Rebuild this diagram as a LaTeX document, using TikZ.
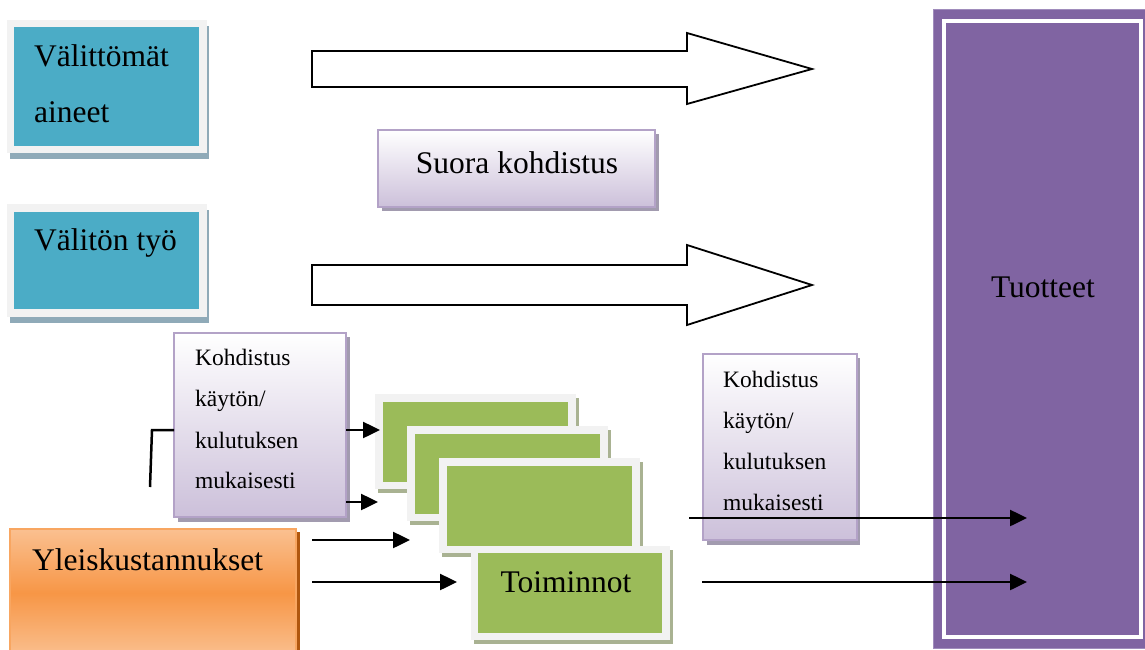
\documentclass[tikz,border=0pt]{standalone}
\usepackage{fontspec}
\setmainfont{Liberation Serif}
\usetikzlibrary{arrows.meta,backgrounds}
\definecolor{frameC}{HTML}{F2F2F2}
\definecolor{tealC}{HTML}{4BACC6}
\definecolor{tealSh}{HTML}{8FAAB8}
\definecolor{lavB}{HTML}{B3A2C7}
\definecolor{lavBot}{HTML}{CCC0DA}
\definecolor{lavSh}{HTML}{A29BAF}
\definecolor{greenC}{HTML}{9BBB59}
\definecolor{greenSh}{HTML}{A9B292}
\definecolor{orTop}{HTML}{FAC090}
\definecolor{orMid}{HTML}{F79646}
\definecolor{orB}{HTML}{F8A661}
\definecolor{orSh}{HTML}{B0570F}
\definecolor{purpleC}{HTML}{8064A2}
\definecolor{purpleL}{HTML}{A08CBC}
\newcommand\BoxFontL{\fontsize{31.5}{36}\selectfont}
\newcommand\BoxFontS{\fontsize{23.5}{28}\selectfont}
\begin{document}
\begin{tikzpicture}[x=1pt,y=-1pt,
  rbox/.style={inner sep=0pt,outer sep=0pt,anchor=north west},
  lavbox/.style={rbox,draw=lavB,line width=2pt,top color=white,bottom color=lavBot},
  greenbox/.style={rbox,fill=frameC,minimum width=201pt,minimum height=95pt},
  lbl/.style={inner sep=0pt,anchor=base west,font=\BoxFontL},
  slbl/.style={inner sep=0pt,anchor=base west,font=\BoxFontS},
  blockarrow/.style={draw=black,fill=white,line width=1.8pt,line join=miter},
  arr/.style={line width=2.5pt,-{Triangle[length=17pt,width=16pt]}},
  plain/.style={line width=2.5pt}
]
\useasboundingbox (0,0) rectangle (1145,650);

% Tuotteet
\node[rbox,fill=purpleC,draw=purpleL,line width=1pt,minimum width=213pt,minimum height=638pt] (tu) at (933,10) {};
\draw[white,line width=4pt] ([xshift=11pt,yshift=-11pt]tu.north west) rectangle ([xshift=-5pt,yshift=11pt]tu.south east);
\node[inner sep=0pt,anchor=base,font=\BoxFontL] (tut) at (1043,297) {Tuotteet};

% Välittömät aineet
\node[rbox,fill=frameC,minimum width=200pt,minimum height=133pt] (va) at (7,20) {};
\fill[tealC] ([xshift=7pt,yshift=-7pt]va.north west) rectangle ([xshift=-8pt,yshift=7pt]va.south east);
\node[lbl] (va1) at (34,67) {Välittömät};
\node[lbl] (va2) at (34,122) {aineet};

% Välitön työ
\node[rbox,fill=frameC,minimum width=200pt,minimum height=113pt] (vt) at (7,204) {};
\fill[tealC] ([xshift=7pt,yshift=-8pt]vt.north west) rectangle ([xshift=-8pt,yshift=8pt]vt.south east);
\node[lbl] (vt1) at (34,250) {Välitön työ};

% block arrows
\draw[blockarrow] (312,51) -- (687,51) -- (687,33) -- (812,69) -- (687,104) -- (687,87) -- (312,87) -- cycle;
\draw[blockarrow] (312,265) -- (687,265) -- (687,245) -- (812,285) -- (687,325) -- (687,305) -- (312,305) -- cycle;

% Suora kohdistus
\node[lavbox,minimum width=277pt,minimum height=77pt] (su) at (378,130) {};
\node[inner sep=0pt,anchor=base,font=\BoxFontL] (sut) at (517,173) {Suora kohdistus};

% Kohdistus (left)
\node[lavbox,minimum width=172pt,minimum height=184pt] (kl) at (174,333) {};
\node[slbl] (kl1) at (195,365) {Kohdistus};
\node[slbl] (kl2) at (195,406) {käytön/};
\node[slbl] (kl3) at (195,448) {kulutuksen};
\node[slbl] (kl4) at (195,488) {mukaisesti};

% Kohdistus (right)
\node[lavbox,minimum width=154pt,minimum height=186pt] (kr) at (703,354) {};
\node[slbl] (kr1) at (723,387) {Kohdistus};
\node[slbl] (kr2) at (723,428) {käytön/};
\node[slbl] (kr3) at (723,469) {kulutuksen};
\node[slbl] (kr4) at (723,510) {mukaisesti};

% Yleiskustannukset
\node[rbox,draw=orB,line width=2pt,top color=orTop,bottom color=orTop,middle color=orMid,minimum width=286pt,minimum height=128pt] (yk) at (10,529) {};
\node[lbl] (ykt) at (32,570) {Yleiskustannukset};

% green boxes
\node[greenbox] (g1) at (375,394) {};
\fill[greenC] ([xshift=8pt,yshift=-8pt]g1.north west) rectangle ([xshift=-8pt,yshift=7pt]g1.south east);
\node[greenbox] (g2) at (407,426) {};
\fill[greenC] ([xshift=8pt,yshift=-8pt]g2.north west) rectangle ([xshift=-8pt,yshift=7pt]g2.south east);
\node[greenbox] (g3) at (439,458) {};
\fill[greenC] ([xshift=8pt,yshift=-8pt]g3.north west) rectangle ([xshift=-8pt,yshift=7pt]g3.south east);
\node[greenbox,minimum width=199pt,minimum height=94pt] (g4) at (471,546) {};
\fill[greenC] ([xshift=7pt,yshift=-7pt]g4.north west) rectangle ([xshift=-8pt,yshift=7pt]g4.south east);
\node[inner sep=0pt,anchor=base,font=\BoxFontL] (g4t) at (566,592) {Toiminnot};

% shadows
\begin{scope}[on background layer]
  \fill[tealSh] ([xshift=3pt,yshift=-6pt]va.north west) rectangle ([xshift=2pt,yshift=-6pt]va.south east);
  \fill[tealSh] ([xshift=3pt,yshift=-6pt]vt.north west) rectangle ([xshift=2pt,yshift=-6pt]vt.south east);
  \fill[lavSh] ([xshift=4pt,yshift=-4pt]su.north west) rectangle ([xshift=4pt,yshift=-4pt]su.south east);
  \fill[lavSh] ([xshift=4pt,yshift=-4pt]kl.north west) rectangle ([xshift=4pt,yshift=-5pt]kl.south east);
  \fill[lavSh] ([xshift=4pt,yshift=-4pt]kr.north west) rectangle ([xshift=3pt,yshift=-5pt]kr.south east);
  \fill[orSh] ([xshift=3pt,yshift=-3pt]yk.north west) rectangle ([xshift=4pt,yshift=-3pt]yk.south east);
  \foreach \g in {g1,g2,g3,g4}
    \fill[greenSh] ([xshift=3pt,yshift=-4pt]\g.north west) rectangle ([xshift=3pt,yshift=-4pt]\g.south east);
\end{scope}

% connectors
\coordinate (b0) at (150,487);
\coordinate (b1) at (152,430);
\draw[plain,line join=miter] (b0) -- (b1) -- (kl.west |- b1);
\draw[arr] (kl.east |- b1) -- ([xshift=5pt]g1.west |- b1);
\coordinate (a2) at (378,502);
\draw[arr] (kl.east |- a2) -- (a2);
\coordinate (y1s) at (312,540);
\draw[arr] (y1s) -- ([xshift=3pt]g2.west |- y1s);
\coordinate (y2s) at (312,582);
\coordinate (y2e) at (457,582);
\draw[arr] (y2s) -- (y2e);
\coordinate (t1s) at (689,518);
\coordinate (t1e) at (1027,518);
\draw[arr] (t1s) -- (t1e);
\coordinate (t2s) at (702,582);
\coordinate (t2e) at (1027,582);
\draw[arr] (t2s) -- (t2e);
\end{tikzpicture}
\end{document}
